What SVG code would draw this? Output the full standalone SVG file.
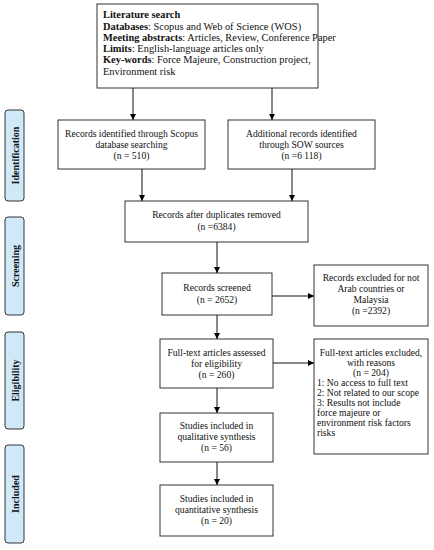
<svg xmlns="http://www.w3.org/2000/svg" width="434" height="550" viewBox="0 0 434 550">
<defs>
<marker id="ah" viewBox="0 0 10 10" refX="10" refY="5" markerWidth="6" markerHeight="6" orient="auto" markerUnits="userSpaceOnUse">
<path d="M0,0 L10,5 L0,10 z" fill="#000"/>
</marker>
</defs>
<style>
.box{fill:#fff;stroke:#333;stroke-width:1}
.side{fill:#cfe9f8;stroke:#333;stroke-width:1}
text{font-family:"Liberation Serif","Times New Roman",serif;font-size:9.6px;fill:#111}
.top{font-size:10.4px}
.c{text-anchor:middle}
.b{font-weight:bold}
.st{font-weight:bold;font-size:10px;text-anchor:middle}
.ln{stroke:#111;stroke-width:1;fill:none;marker-end:url(#ah)}
</style>
<rect width="434" height="550" fill="#fff"/>

<g id="side-identification">
<rect class="side" x="5" y="110" width="19" height="91" rx="3"/>
<text class="st" transform="translate(18.5,155.5) rotate(-90)">Identification</text>
</g>
<g id="side-screening">
<rect class="side" x="5" y="217" width="19" height="98" rx="3"/>
<text class="st" transform="translate(18.5,266) rotate(-90)">Screening</text>
</g>
<g id="side-eligibility">
<rect class="side" x="5" y="332" width="19" height="97" rx="3"/>
<text class="st" transform="translate(18.5,380.5) rotate(-90)">Eligibility</text>
</g>
<g id="side-included">
<rect class="side" x="5" y="445" width="19" height="98" rx="3"/>
<text class="st" transform="translate(18.5,494) rotate(-90)">Included</text>
</g>

<g id="literature-search">
<rect class="box" x="97" y="4" width="221" height="84"/>
<text class="top" x="103" y="18"><tspan class="b">Literature search</tspan></text>
<text class="top" x="103" y="30"><tspan class="b">Databases</tspan>: Scopus and Web of Science (WOS)</text>
<text class="top" x="103" y="41"><tspan class="b">Meeting abstracts</tspan>: Articles, Review, Conference Paper</text>
<text class="top" x="103" y="52"><tspan class="b">Limits</tspan>: English-language articles only</text>
<text class="top" x="103" y="63"><tspan class="b">Key-words</tspan>: Force Majeure, Construction project,</text>
<text class="top" x="103" y="75">Environment risk</text>
</g>

<g id="scopus">
<rect class="box" x="58" y="120" width="147" height="49"/>
<text class="c" x="131.5" y="137">Records identified through Scopus</text>
<text class="c" x="131.5" y="148">database searching</text>
<text class="c" x="131.5" y="159">(n = 510)</text>
</g>

<g id="sow">
<rect class="box" x="228" y="120" width="147" height="49"/>
<text class="c" x="301.5" y="137">Additional records identified</text>
<text class="c" x="301.5" y="148">through SOW sources</text>
<text class="c" x="301.5" y="159">(n =6 118)</text>
</g>

<g id="duplicates">
<rect class="box" x="125" y="201" width="183" height="41"/>
<text class="c" x="216.5" y="218">Records after duplicates removed</text>
<text class="c" x="216.5" y="230">(n =6384)</text>
</g>

<g id="screened">
<rect class="box" x="162" y="273" width="110" height="42"/>
<text class="c" x="217" y="291">Records screened</text>
<text class="c" x="217" y="303">(n = 2652)</text>
</g>

<g id="excluded">
<rect class="box" x="314" y="265" width="114" height="61"/>
<text class="c" x="371" y="281">Records excluded for not</text>
<text class="c" x="371" y="292">Arab countries or</text>
<text class="c" x="371" y="303">Malaysia</text>
<text class="c" x="371" y="314">(n =2392)</text>
</g>

<g id="fulltext">
<rect class="box" x="160" y="339" width="113" height="49"/>
<text class="c" x="216.5" y="356">Full-text articles assessed</text>
<text class="c" x="216.5" y="367">for eligibility</text>
<text class="c" x="216.5" y="378">(n = 260)</text>
</g>

<g id="fulltext-excluded">
<rect class="box" x="314" y="339" width="114" height="115"/>
<text class="c" x="371" y="356">Full-text articles excluded,</text>
<text class="c" x="371" y="366">with reasons</text>
<text class="c" x="371" y="376">(n = 204)</text>
<text x="317" y="386">1: No access to full text</text>
<text x="317" y="396">2: Not related to our scope</text>
<text x="317" y="406">3: Results not include</text>
<text x="317" y="416">force majeure or</text>
<text x="317" y="426">environment risk factors</text>
<text x="317" y="436">risks</text>
</g>

<g id="qualitative">
<rect class="box" x="160" y="413" width="113" height="49"/>
<text class="c" x="216.5" y="429">Studies included in</text>
<text class="c" x="216.5" y="440">qualitative synthesis</text>
<text class="c" x="216.5" y="451">(n = 56)</text>
</g>

<g id="quantitative">
<rect class="box" x="160" y="485" width="113" height="51"/>
<text class="c" x="216.5" y="502">Studies included in</text>
<text class="c" x="216.5" y="513">quantitative synthesis</text>
<text class="c" x="216.5" y="524">(n = 20)</text>
</g>

<g id="connectors">
<path class="ln" d="M133,88 V120"/>
<path class="ln" d="M272,88 V120"/>
<path class="ln" d="M142,169 V201"/>
<path class="ln" d="M292,169 V201"/>
<path class="ln" d="M217,242 V273"/>
<path class="ln" d="M272,296 H314"/>
<path class="ln" d="M217,315 V339"/>
<path class="ln" d="M273,363 H314"/>
<path class="ln" d="M217,388 V413"/>
<path class="ln" d="M217,462 V485"/>
</g>
</svg>
